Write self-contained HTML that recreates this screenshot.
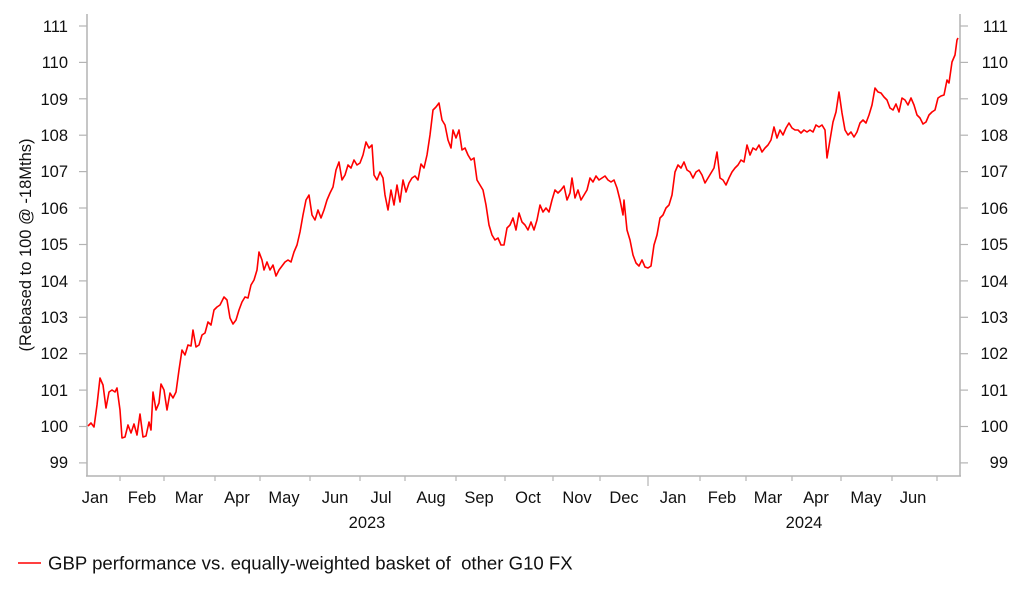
<!DOCTYPE html>
<html><head><meta charset="utf-8"><style>
body{margin:0;background:#fff;}
svg{display:block;font-family:"Liberation Sans",Arial,sans-serif;}
</style></head><body>
<svg width="1022" height="597" viewBox="0 0 1022 597">
<g stroke="#b4b4b4" stroke-width="1.5" fill="none">
<line x1="87" y1="14" x2="87" y2="476"/>
<line x1="960" y1="14" x2="960" y2="476"/>
<line x1="86" y1="476" x2="961" y2="476"/>
</g>
<g stroke="#b4b4b4" stroke-width="1.2">
<line x1="79" y1="26" x2="87" y2="26"/><line x1="79" y1="62.4" x2="87" y2="62.4"/><line x1="79" y1="98.8" x2="87" y2="98.8"/><line x1="79" y1="135.2" x2="87" y2="135.2"/><line x1="79" y1="171.6" x2="87" y2="171.6"/><line x1="79" y1="208" x2="87" y2="208"/><line x1="79" y1="244.5" x2="87" y2="244.5"/><line x1="79" y1="280.9" x2="87" y2="280.9"/><line x1="79" y1="317.3" x2="87" y2="317.3"/><line x1="79" y1="353.7" x2="87" y2="353.7"/><line x1="79" y1="390.1" x2="87" y2="390.1"/><line x1="79" y1="426.5" x2="87" y2="426.5"/><line x1="79" y1="462.9" x2="87" y2="462.9"/>
<line x1="960" y1="26" x2="968" y2="26"/><line x1="960" y1="62.4" x2="968" y2="62.4"/><line x1="960" y1="98.8" x2="968" y2="98.8"/><line x1="960" y1="135.2" x2="968" y2="135.2"/><line x1="960" y1="171.6" x2="968" y2="171.6"/><line x1="960" y1="208" x2="968" y2="208"/><line x1="960" y1="244.5" x2="968" y2="244.5"/><line x1="960" y1="280.9" x2="968" y2="280.9"/><line x1="960" y1="317.3" x2="968" y2="317.3"/><line x1="960" y1="353.7" x2="968" y2="353.7"/><line x1="960" y1="390.1" x2="968" y2="390.1"/><line x1="960" y1="426.5" x2="968" y2="426.5"/><line x1="960" y1="462.9" x2="968" y2="462.9"/>
<line x1="120" y1="476" x2="120" y2="481"/><line x1="164" y1="476" x2="164" y2="481"/><line x1="215" y1="476" x2="215" y2="481"/><line x1="260" y1="476" x2="260" y2="481"/><line x1="310" y1="476" x2="310" y2="481"/><line x1="360" y1="476" x2="360" y2="481"/><line x1="405" y1="476" x2="405" y2="481"/><line x1="456" y1="476" x2="456" y2="481"/><line x1="505" y1="476" x2="505" y2="481"/><line x1="553" y1="476" x2="553" y2="481"/><line x1="600" y1="476" x2="600" y2="481"/><line x1="648" y1="476" x2="648" y2="486"/><line x1="700" y1="476" x2="700" y2="481"/><line x1="746" y1="476" x2="746" y2="481"/><line x1="792" y1="476" x2="792" y2="481"/><line x1="841" y1="476" x2="841" y2="481"/><line x1="892" y1="476" x2="892" y2="481"/><line x1="937" y1="476" x2="937" y2="481"/>
</g>
<g font-size="16.5" fill="#111" text-anchor="end">
<text x="68" y="32">111</text><text x="68" y="68">110</text><text x="68" y="105">109</text><text x="68" y="141">108</text><text x="68" y="177">107</text><text x="68" y="214">106</text><text x="68" y="250">105</text><text x="68" y="287">104</text><text x="68" y="323">103</text><text x="68" y="359">102</text><text x="68" y="396">101</text><text x="68" y="432">100</text><text x="68" y="468">99</text>
</g>
<g font-size="16.5" fill="#111" text-anchor="end">
<text x="1008" y="32">111</text><text x="1008" y="68">110</text><text x="1008" y="105">109</text><text x="1008" y="141">108</text><text x="1008" y="177">107</text><text x="1008" y="214">106</text><text x="1008" y="250">105</text><text x="1008" y="287">104</text><text x="1008" y="323">103</text><text x="1008" y="359">102</text><text x="1008" y="396">101</text><text x="1008" y="432">100</text><text x="1008" y="468">99</text>
</g>
<g font-size="16.5" fill="#111" text-anchor="middle">
<text x="95" y="503">Jan</text><text x="142" y="503">Feb</text><text x="189" y="503">Mar</text><text x="237" y="503">Apr</text><text x="284" y="503">May</text><text x="335" y="503">Jun</text><text x="381" y="503">Jul</text><text x="431" y="503">Aug</text><text x="479" y="503">Sep</text><text x="528" y="503">Oct</text><text x="577" y="503">Nov</text><text x="624" y="503">Dec</text><text x="673" y="503">Jan</text><text x="722" y="503">Feb</text><text x="768" y="503">Mar</text><text x="816" y="503">Apr</text><text x="866" y="503">May</text><text x="913" y="503">Jun</text>
<text x="367" y="528">2023</text><text x="804" y="528">2024</text>
</g>
<text font-size="16.5" fill="#111" text-anchor="middle" transform="translate(31,245) rotate(-90)">(Rebased to 100 @ -18Mths)</text>
<polyline fill="none" stroke="#ff0000" stroke-width="1.6" stroke-linejoin="round" points="88,426 91,423 94,427 97,405 100,378 103,385 106,408 109,392 112,390 115,392 117,388 120,410 122,438 125,437 128,425 131,433 134,424 137,435 140,414 143,437 146,436 149,422 151,430 153,392 156,410 159,403 161,384 164,390 167,410 170,393 173,398 176,392 179,370 182,350 185,355 188,345 191,346 193,330 196,347 199,345 202,335 205,333 208,322 211,325 214,310 217,307 220,305 224,297 227,300 230,318 233,324 236,320 239,310 242,302 245,297 248,298 251,285 254,280 257,270 259,252 262,260 264,270 267,262 270,270 273,265 276,276 279,270 282,266 285,262 288,260 291,262 294,252 297,245 300,232 303,215 306,200 309,195 312,215 315,220 318,210 321,218 324,210 327,200 330,193 333,187 336,170 339,162 342,180 345,175 348,165 351,168 354,160 357,165 360,163 363,155 366,142 369,148 372,145 374,175 377,180 380,172 383,178 385,195 388,210 391,190 394,205 397,185 400,202 403,180 406,192 409,183 412,178 415,176 418,180 421,164 424,168 427,155 430,135 433,110 436,107 439,103 442,120 445,125 448,140 451,148 453,130 456,138 459,130 462,150 465,148 468,155 471,160 474,158 477,180 480,185 483,190 486,205 489,225 492,235 495,240 498,238 501,245 504,245 507,228 510,225 513,218 516,230 519,213 522,222 525,225 528,230 531,222 534,230 537,220 540,205 543,212 546,208 549,212 552,200 555,190 558,193 561,190 564,186 567,200 570,193 572,178 575,198 578,190 581,200 584,195 587,190 590,178 593,182 596,176 599,180 602,178 605,176 608,180 611,182 614,180 617,188 620,200 623,215 624,200 627,230 630,240 633,255 636,263 639,266 642,260 645,267 648,268 651,266 654,245 657,235 660,218 663,215 666,208 669,205 672,195 675,172 678,165 681,168 684,162 687,170 690,172 693,178 696,172 699,170 702,175 705,183 708,178 711,173 714,168 717,152 720,178 723,180 726,185 729,178 732,172 735,168 738,165 741,160 744,162 747,145 750,155 753,148 756,150 759,145 762,152 765,148 768,145 771,140 774,127 777,138 780,130 783,135 786,128 789,123 792,128 795,130 798,130 801,133 804,130 807,132 810,130 813,132 816,125 819,127 822,125 825,130 827,158 830,140 833,122 836,112 839,92 842,113 845,130 848,135 851,132 854,137 857,132 860,123 863,120 866,123 869,115 872,105 875,88 878,92 881,93 884,97 887,100 890,108 893,110 896,104 899,112 902,98 905,100 908,105 911,98 914,105 917,115 920,118 923,124 926,122 929,115 932,112 935,110 938,98 941,96 944,95 947,80 949,83 952,62 955,55 957,40 958,38"/>
<line x1="18" y1="563" x2="41" y2="563" stroke="#ff0000" stroke-width="1.6"/>
<text x="48" y="569.5" font-size="18.6" fill="#111" xml:space="preserve">GBP performance vs. equally-weighted basket of  other G10 FX</text>
</svg>
</body></html>
